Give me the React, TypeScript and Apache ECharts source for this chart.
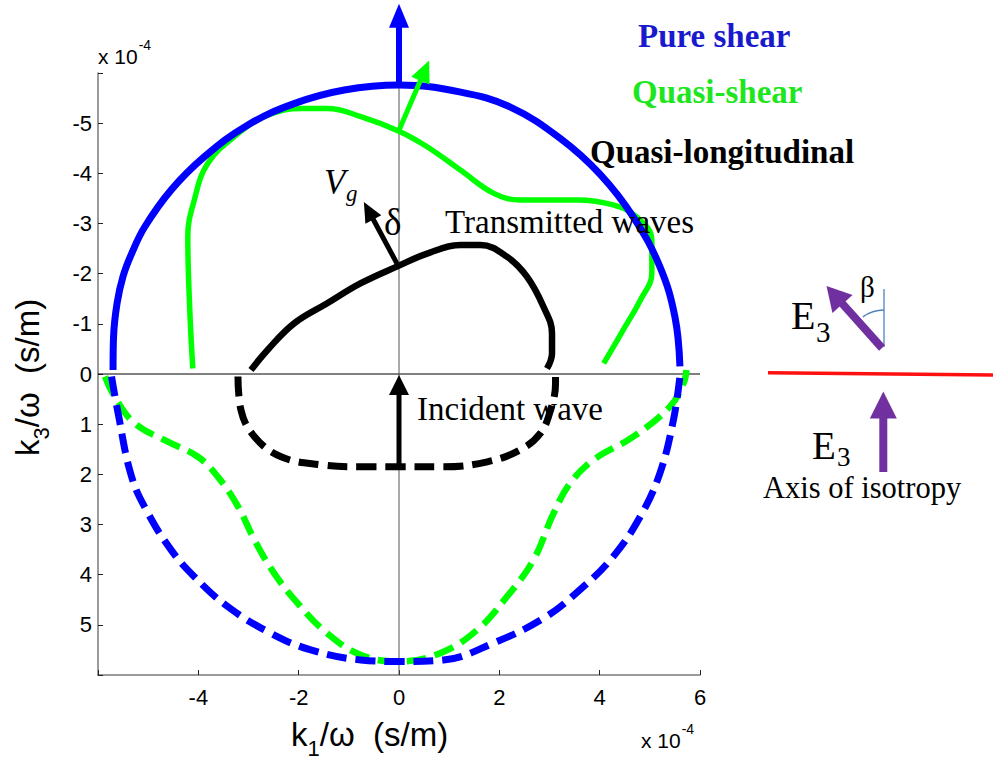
import React, { useEffect, useRef } from "react";
import * as echarts from "echarts";

type P = [number, number];

// ---- data (units of 1e-4 s/m) ----
const pureShearUpper: P[] = [
  [-5.70, -0.08], [-5.69, -0.74], [-5.62, -1.41], [-5.50, -1.95], [-5.33, -2.40], [-5.07, -2.93],
  [-4.54, -3.67], [-3.88, -4.33], [-3.02, -4.96], [-2.09, -5.39], [-1.09, -5.66], [0, -5.76],
  [1.23, -5.62], [2.22, -5.32], [3.21, -4.70], [4.01, -3.98], [4.67, -3.13], [5.20, -2.14],
  [5.50, -1.14], [5.60, -0.15],
];
const pureShearLower: P[] = [
  [-5.73, 0.05], [-5.60, 0.78], [-5.33, 2.05], [-5.00, 2.78], [-4.54, 3.51], [-4.08, 4.04],
  [-3.41, 4.64], [-2.55, 5.17], [-1.76, 5.50], [-0.76, 5.70], [0, 5.73], [0.89, 5.70],
  [1.89, 5.36], [2.88, 4.87], [3.61, 4.30], [4.27, 3.64], [4.81, 2.84], [5.20, 1.98],
  [5.47, 0.92], [5.60, 0.05],
];
const quasiShearUpper: P[] = [
  [-4.11, -0.11], [-4.17, -1.27], [-4.21, -2.74], [-4.08, -3.47], [-3.81, -4.20], [-3.21, -4.79],
  [-2.62, -5.16], [-1.95, -5.29], [-1.43, -5.29], [-0.76, -5.13], [0, -4.84], [0.56, -4.53],
  [1.23, -4.06], [1.89, -3.60], [2.42, -3.47], [3.55, -3.47], [4.27, -3.37], [4.74, -3.13],
  [5.04, -2.67], [5.04, -2.01], [4.81, -1.47], [4.47, -0.88], [4.08, -0.21],
];
const quasiShearLower: P[] = [
  [-5.86, 0.05], [-5.67, 0.45], [-5.27, 0.98], [-4.61, 1.35], [-4.01, 1.65], [-3.61, 2.05],
  [-3.21, 2.64], [-2.88, 3.31], [-2.49, 3.97], [-2.02, 4.57], [-1.43, 5.17], [-0.76, 5.60],
  [0, 5.73], [0.83, 5.56], [1.56, 5.10], [2.15, 4.44], [2.68, 3.71], [3.08, 2.78],
  [3.41, 2.18], [3.88, 1.71], [4.67, 1.25], [5.40, 0.65], [5.67, 0.19], [5.73, -0.08],
];
const quasiLongUpper: P[] = [
  [-2.95, -0.08], [-2.62, -0.48], [-2.09, -1.01], [-1.43, -1.41], [-0.76, -1.81], [0, -2.16],
  [0.56, -2.40], [1.23, -2.57], [1.62, -2.57], [2.15, -2.34], [2.55, -1.94], [2.88, -1.34],
  [3.05, -0.81], [3.05, -0.41], [2.95, -0.11],
];
const quasiLongLower: P[] = [
  [-3.21, 0.05], [-3.15, 0.72], [-2.88, 1.25], [-2.35, 1.65], [-1.56, 1.81], [-0.76, 1.85],
  [0, 1.85], [0.89, 1.85], [1.76, 1.75], [2.42, 1.51], [2.82, 1.18], [3.02, 0.72],
  [3.12, 0.19], [3.12, -0.05],
];
const zeroLineH: P[] = [[-6, 0], [6, 0]];
const zeroLineV: P[] = [[0, -6], [0, 6]];

// arrows: [from, to]
const arrowPureShear: P[] = [[0, -5.76], [0, -7.38]];
const arrowQuasiShear: P[] = [[0, -4.86], [0.6, -6.25]];
const arrowVg: P[] = [[-0.04, -2.2], [-0.7, -3.43]];
const arrowIncident: P[] = [[0, 1.85], [0, 0.02]];

const xTicks = [-4, -2, 0, 2, 4, 6];
const yTicks = [-5, -4, -3, -2, -1, 0, 1, 2, 3, 4, 5];

const BLUE = "#0000ff";
const GREEN = "#00ff00";
const BLACK = "#000000";
const PURPLE = "#7030a0";
const SERIF = '"Liberation Serif", "Times New Roman", serif';
const SANS = '"Liberation Sans", Arial, sans-serif';

function curve(data: P[], color: string, width: number, dashed: boolean, z: number) {
  return {
    type: "line",
    data,
    showSymbol: false,
    symbol: "none",
    smooth: 0.4,
    silent: true,
    z,
    lineStyle: { color, width, type: dashed ? [20, 9] : "solid", cap: "butt", join: "round" },
  };
}

function fontStr(size: number, family: string, extra: any = {}) {
  return [extra.style, extra.weight, `${size}px`, family].filter(Boolean).join(" ");
}

function txt(text: string, x: number, baseline: number, family: string, size: number, fill: string, extra: any = {}) {
  return {
    type: "text",
    silent: true,
    z: 100,
    style: {
      text,
      x,
      y: baseline - 0.31 * size,
      font: fontStr(size, family, extra),
      fill,
      textAlign: extra.align || "left",
      textVerticalAlign: "middle",
      verticalAlign: "middle",
    },
  };
}

function arrowEls(a: number[], b: number[], color: string, shaftW: number, headL: number, headW: number) {
  const dx = b[0] - a[0];
  const dy = b[1] - a[1];
  const L = Math.hypot(dx, dy);
  const ux = dx / L, uy = dy / L;
  const nx = -uy, ny = ux;
  const bx = b[0] - ux * headL, by = b[1] - uy * headL;
  return [
    {
      type: "line",
      silent: true,
      z: 90,
      shape: { x1: a[0], y1: a[1], x2: bx + ux * 2, y2: by + uy * 2 },
      style: { stroke: color, lineWidth: shaftW, lineCap: "butt" },
    },
    {
      type: "polygon",
      silent: true,
      z: 90,
      shape: {
        points: [
          [b[0], b[1]],
          [bx + (nx * headW) / 2, by + (ny * headW) / 2],
          [bx - (nx * headW) / 2, by - (ny * headW) / 2],
        ],
      },
      style: { fill: color },
    },
  ];
}

export default function App() {
  const ref = useRef<HTMLDivElement>(null);
  useEffect(() => {
    document.body.style.margin = "0";
    const chart = echarts.init(ref.current!, null, { renderer: "svg" });
    const option: any = {
      animation: false,
      backgroundColor: "#ffffff",
      grid: { left: 98, right: 293, top: 73, bottom: 86, containLabel: false },
      xAxis: {
        type: "value",
        min: -6,
        max: 6,
        interval: 2,
        axisLine: { onZero: false, lineStyle: { color: "#7a7a7a", width: 1.5 } },
        axisTick: { inside: true, length: 5, lineStyle: { color: "#222", width: 1 } },
        splitLine: { show: false },
        axisLabel: {
          margin: 11,
          color: "#000",
          fontSize: 22,
          fontFamily: SANS,
          formatter: (v: number) => (xTicks.includes(v) ? String(v) : ""),
        },
      },
      yAxis: {
        type: "value",
        inverse: true,
        min: -6,
        max: 6,
        interval: 1,
        axisLine: { onZero: false, lineStyle: { color: "#7a7a7a", width: 1.5 } },
        axisTick: { inside: true, length: 5, lineStyle: { color: "#222", width: 1 } },
        splitLine: { show: false },
        axisLabel: {
          margin: 6,
          color: "#000",
          fontSize: 22,
          fontFamily: SANS,
          formatter: (v: number) => (yTicks.includes(v) ? String(v) : ""),
        },
      },
      series: [
        { ...curve(zeroLineH, BLACK, 1, false, 1), smooth: false },
        { ...curve(zeroLineV, "#555555", 1, false, 1), smooth: false },
        curve(quasiShearUpper, GREEN, 5.5, false, 3),
        curve(quasiShearLower, GREEN, 6.5, true, 3),
        curve(pureShearUpper, BLUE, 7, false, 4),
        curve(pureShearLower, BLUE, 7, true, 4),
        curve(quasiLongUpper, BLACK, 6.5, false, 5),
        curve(quasiLongLower, BLACK, 7, true, 5),
      ],
    };
    chart.setOption(option);

    const px = (p: P) => chart.convertToPixel({ gridIndex: 0 }, p) as number[];

    const ctx = document.createElement("canvas").getContext("2d")!;
    const tw = (t: string, font: string) => {
      ctx.font = font;
      return ctx.measureText(t).width;
    };

    const graphic: any[] = [];
    graphic.push(...arrowEls(px(arrowPureShear[0]), px(arrowPureShear[1]), BLUE, 6, 24, 20));
    graphic.push(...arrowEls(px(arrowQuasiShear[0]), px(arrowQuasiShear[1]), GREEN, 5, 22, 20));
    graphic.push(...arrowEls(px(arrowVg[0]), px(arrowVg[1]), BLACK, 5, 20, 18));
    graphic.push(...arrowEls(px(arrowIncident[0]), px(arrowIncident[1]), BLACK, 5, 20, 20));

    // legend-like labels
    graphic.push(txt("Pure shear", 638, 46, SERIF, 33, "#1a1acd", { weight: "bold" }));
    graphic.push(txt("Quasi-shear", 632, 102, SERIF, 33, "#1ee61e", { weight: "bold" }));
    graphic.push(txt("Quasi-longitudinal", 590, 162, SERIF, 33, BLACK, { weight: "bold" }));

    // annotations in plot
    graphic.push(txt("Transmitted waves", 445, 232, SERIF, 33, BLACK));
    graphic.push(txt("Incident wave", 417, 419, SERIF, 33, BLACK));
    graphic.push(txt("V", 324, 193, SERIF, 35, BLACK, { style: "italic" }));
    graphic.push(txt("g", 346, 201, SERIF, 23, BLACK, { style: "italic" }));
    graphic.push(txt("δ", 384, 234, SERIF, 37, BLACK));

    // exponent labels
    const EF = 21;
    const wX10 = tw("x 10", fontStr(EF, SANS));
    graphic.push(txt("x 10", 98, 63, SANS, EF, BLACK));
    graphic.push(txt("-4", 98 + wX10 + 1, 49, SANS, 14, BLACK));
    graphic.push(txt("x 10", 641, 747, SANS, EF, BLACK));
    graphic.push(txt("-4", 641 + wX10 + 1, 733, SANS, 14, BLACK));

    // axis titles
    const TF = 33;
    const SF = 22;
    const fMain = fontStr(TF, SANS);
    const fSub = fontStr(SF, SANS);
    const wK = tw("k", fMain);
    const wSub = tw("1", fSub);
    const rest = "/ω  (s/m)";
    const wRest = tw(rest, fMain);
    const total = wK + wSub + wRest;
    const xStart = 291;
    graphic.push(txt("k", xStart, 745, SANS, TF, BLACK));
    graphic.push(txt("1", xStart + wK, 755, SANS, SF, BLACK));
    graphic.push(txt(rest, xStart + wK + wSub, 745, SANS, TF, BLACK));

    // y title (rotated group): local coords with baseline at y=0
    graphic.push({
      type: "group",
      x: 38,
      y: 456,
      rotation: Math.PI / 2,
      silent: true,
      children: [
        txt("k", 0, 0, SANS, TF, BLACK),
        txt("3", wK, 10, SANS, SF, BLACK),
        txt(rest, wK + wSub, 0, SANS, TF, BLACK),
      ],
    });

    // right-side sketch
    graphic.push({
      type: "line",
      silent: true,
      shape: { x1: 768, y1: 372.7, x2: 993, y2: 375 },
      style: { stroke: "#ff1010", lineWidth: 3.5 },
    });
    graphic.push(...arrowEls([882, 348], [826.5, 286], PURPLE, 8, 24, 27));
    graphic.push(...arrowEls([883.3, 472], [883.3, 391.5], PURPLE, 8, 27, 27));
    graphic.push({
      type: "line",
      silent: true,
      shape: { x1: 884, y1: 289, x2: 884, y2: 347 },
      style: { stroke: "#4f81bd", lineWidth: 1.3 },
    });
    graphic.push({
      type: "arc",
      silent: true,
      shape: { cx: 884, cy: 346, r: 36, startAngle: -2.2, endAngle: -Math.PI / 2, clockwise: true },
      style: { stroke: "#4f81bd", lineWidth: 1.3, fill: "none" },
    });
    graphic.push(txt("β", 860, 296, SERIF, 29, BLACK));
    graphic.push(txt("E", 791, 328, SERIF, 40, BLACK));
    graphic.push(txt("3", 816, 341, SERIF, 29, BLACK));
    graphic.push(txt("E", 812, 458, SERIF, 39, BLACK));
    graphic.push(txt("3", 837, 465, SERIF, 27, BLACK));
    graphic.push(txt("Axis of isotropy", 763, 497, SERIF, 30.5, BLACK));

    chart.setOption({ graphic });

    return () => chart.dispose();
  }, []);
  return <div ref={ref} style={{ width: 993, height: 761 }} />;
}
